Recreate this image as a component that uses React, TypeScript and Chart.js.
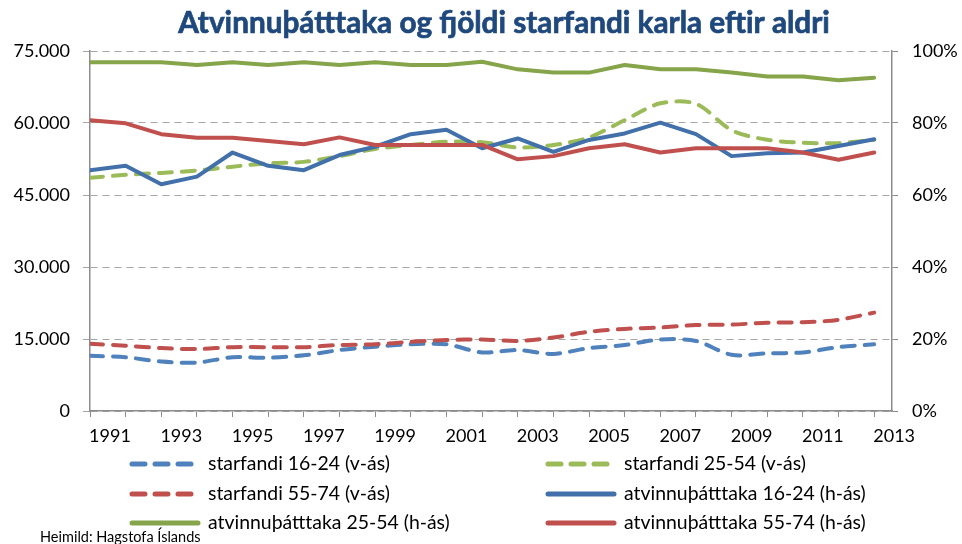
import React, { useEffect, useRef } from 'react';
import { Chart, registerables } from 'chart.js';

Chart.register(...registerables);

const TITLE = 'Atvinnuþátttaka og fjöldi starfandi karla eftir aldri';
const SOURCE = 'Heimild: Hagstofa Íslands';

const years = [1991, 1992, 1993, 1994, 1995, 1996, 1997, 1998, 1999, 2000, 2001, 2002, 2003, 2004, 2005, 2006, 2007, 2008, 2009, 2010, 2011, 2012, 2013];

// Fjöldi starfandi (vinstri ás)
const starfandi1624 = [11500, 11200, 10300, 10100, 11200, 11100, 11600, 12700, 13400, 13900, 13900, 12200, 12700, 11900, 13100, 13750, 14900, 14600, 11700, 12000, 12200, 13300, 13900];
const starfandi2554 = [48600, 49200, 49600, 50100, 50900, 51600, 51900, 53100, 54600, 55400, 56100, 56000, 54900, 55400, 57000, 60600, 64100, 64000, 58500, 56500, 55900, 55800, 56500];
const starfandi5574 = [14000, 13600, 13100, 12900, 13300, 13300, 13300, 13750, 13900, 14400, 14800, 14900, 14600, 15300, 16500, 17100, 17400, 17900, 18000, 18400, 18500, 19000, 20500];

// Atvinnuþátttaka % (hægri ás)
const atv1624 = [66.9, 68.1, 63.0, 65.1, 71.8, 68.1, 66.9, 71.1, 73.4, 76.9, 78.1, 73.0, 75.7, 72.0, 75.3, 77.1, 80.1, 76.9, 70.8, 71.6, 71.8, 73.6, 75.5];
const atv2554 = [96.9, 96.9, 96.9, 96.1, 96.9, 96.1, 96.9, 96.1, 96.9, 96.1, 96.1, 97.0, 94.9, 94.0, 94.0, 96.1, 94.9, 94.9, 94.0, 92.9, 92.9, 91.9, 92.6];
const atv5574 = [80.8, 79.9, 76.9, 75.9, 75.9, 75.0, 74.1, 76.0, 73.9, 73.9, 73.9, 73.9, 69.9, 70.8, 73.0, 74.1, 71.8, 73.0, 73.0, 73.0, 71.8, 69.8, 71.8];

const seriesLabels = [
  'starfandi 16-24 (v-ás)',
  'starfandi 25-54 (v-ás)',
  'starfandi 55-74 (v-ás)',
  'atvinnuþátttaka 16-24 (h-ás)',
  'atvinnuþátttaka 25-54 (h-ás)',
  'atvinnuþátttaka 55-74 (h-ás)',
];

const leftTicks = [0, 15000, 30000, 45000, 60000, 75000];
const rightTicks = [0, 20, 40, 60, 80, 100];

const FONT = 'Lato, "Open Sans", "DejaVu Sans", sans-serif';
const AXIS_GRAY = '#8C8C8C';
const GRID_GRAY = '#A6A6A6';

const fmtThousands = (v: number) =>
  String(Math.round(v)).replace(/\B(?=(\d{3})+(?!\d))/g, '.');

const titlePlugin = {
  id: 'customTitle',
  afterDraw(chart: any) {
    const ctx = chart.ctx as CanvasRenderingContext2D;
    ctx.save();
    let size = 28;
    ctx.font = `bold ${size}px ${FONT}`;
    const w = ctx.measureText(TITLE).width;
    size = size * 652 / w;
    ctx.font = `bold ${size}px ${FONT}`;
    ctx.fillStyle = '#1F497D';
    ctx.strokeStyle = '#1F497D';
    ctx.lineWidth = 0.7;
    ctx.textAlign = 'center';
    ctx.textBaseline = 'alphabetic';
    const cx = (chart.chartArea.left + chart.chartArea.right) / 2 + 13;
    ctx.fillText(TITLE, cx, 33);
    ctx.strokeText(TITLE, cx, 33);
    ctx.restore();
  },
};

const legendPlugin = {
  id: 'customLegend',
  afterDraw(chart: any) {
    const ctx = chart.ctx as CanvasRenderingContext2D;
    const ds = chart.data.datasets;
    const colX = [130, 546];
    const rowY = [464, 494, 523];
    ctx.save();
    let size = 19;
    ctx.font = `${size}px ${FONT}`;
    const w = ctx.measureText(seriesLabels[0]).width;
    size = size * 182 / w;
    ds.forEach((d: any, i: number) => {
      const col = i % 2;
      const row = Math.floor(i / 2);
      const x = colX[col];
      const y = rowY[row];
      ctx.beginPath();
      ctx.strokeStyle = d.borderColor;
      ctx.lineWidth = 5;
      ctx.lineCap = 'round';
      ctx.setLineDash(d.borderDash && d.borderDash.length ? [13, 10] : []);
      ctx.moveTo(x + 2, y);
      ctx.lineTo(x + 68, y);
      ctx.stroke();
      ctx.setLineDash([]);
      ctx.fillStyle = '#000000';
      ctx.font = `${size}px ${FONT}`;
      ctx.textAlign = 'left';
      ctx.textBaseline = 'middle';
      ctx.fillText(d.label, x + 78, y);
    });
    ctx.font = `14.5px ${FONT}`;
    ctx.fillStyle = '#000000';
    ctx.textBaseline = 'middle';
    ctx.fillText(SOURCE, 40, 537);
    ctx.restore();
  },
};

export default function App() {
  const ref = useRef<HTMLCanvasElement | null>(null);

  useEffect(() => {
    document.body.style.margin = '0';
    const canvas = ref.current;
    if (!canvas) return;

    const pts = (arr: number[]) => arr.map((v, i) => ({ x: years[i], y: v }));
    const dashed = (label: string, data: number[], color: string, order: number) => ({
      label,
      data: pts(data),
      borderColor: color,
      backgroundColor: color,
      borderWidth: 4,
      borderDash: [13, 10],
      borderCapStyle: 'round' as const,
      borderJoinStyle: 'round' as const,
      pointRadius: 0,
      tension: 0.3,
      yAxisID: 'y',
      order,
    });
    const solid = (label: string, data: number[], color: string, order: number) => ({
      label,
      data: pts(data),
      borderColor: color,
      backgroundColor: color,
      borderWidth: 4,
      borderDash: [] as number[],
      borderCapStyle: 'round' as const,
      borderJoinStyle: 'round' as const,
      pointRadius: 0,
      tension: 0,
      yAxisID: 'y1',
      order,
    });

    const chart = new Chart(canvas, {
      type: 'line',
      data: {
        datasets: [
          dashed(seriesLabels[0], starfandi1624, '#4F81BD', 6),
          dashed(seriesLabels[1], starfandi2554, '#9BBB59', 5),
          dashed(seriesLabels[2], starfandi5574, '#C0504D', 4),
          solid(seriesLabels[3], atv1624, '#4170AB', 3),
          solid(seriesLabels[4], atv2554, '#86A44A', 2),
          solid(seriesLabels[5], atv5574, '#C0504D', 1),
        ] as any,
      },
      options: {
        responsive: false,
        animation: false,
        devicePixelRatio: 1,
        layout: { padding: { top: 51, bottom: 93, left: 0, right: 0 } },
        plugins: {
          legend: { display: false },
          title: { display: false },
          tooltip: { enabled: false },
        },
        scales: {
          x: {
            type: 'linear',
            min: years[0],
            max: years[years.length - 1] + 0.5,
            afterBuildTicks: (scale: any) => {
              scale.ticks = years.map((v) => ({ value: v }));
            },
            afterFit: (scale: any) => {
              scale.height = 40;
            },
            grid: {
              display: true,
              drawOnChartArea: false,
              drawTicks: true,
              tickLength: 6,
              color: AXIS_GRAY,
              tickColor: AXIS_GRAY,
            },
            border: { display: true, color: AXIS_GRAY, width: 1.5 },
            ticks: {
              autoSkip: false,
              maxRotation: 0,
              minRotation: 0,
              labelOffset: 20,
              padding: 8,
              color: '#000000',
              font: { family: FONT, size: 18 },
              callback: (v: any) => (Number(v) % 2 === 1 ? String(v) : ''),
            },
          },
          y: {
            type: 'linear',
            position: 'left',
            min: 0,
            max: 75000,
            afterBuildTicks: (scale: any) => {
              scale.ticks = leftTicks.map((v) => ({ value: v }));
            },
            afterFit: (scale: any) => {
              scale.width = 90;
            },
            grid: {
              display: true,
              drawOnChartArea: true,
              drawTicks: true,
              tickLength: 7,
              color: GRID_GRAY,
              tickColor: GRID_GRAY,
              lineWidth: 1,
            },
            border: { display: true, color: AXIS_GRAY, width: 1.5, dash: [7, 5] },
            ticks: {
              padding: 13,
              color: '#000000',
              font: { family: FONT, size: 18 },
              callback: (v: any) => fmtThousands(Number(v)),
            },
          },
          y1: {
            type: 'linear',
            position: 'right',
            min: 0,
            max: 100,
            afterBuildTicks: (scale: any) => {
              scale.ticks = rightTicks.map((v) => ({ value: v }));
            },
            afterFit: (scale: any) => {
              scale.width = 70;
            },
            grid: {
              display: true,
              drawOnChartArea: false,
              drawTicks: true,
              tickLength: 6,
              color: AXIS_GRAY,
              tickColor: AXIS_GRAY,
            },
            border: { display: true, color: AXIS_GRAY, width: 1.5 },
            ticks: {
              padding: 14,
              color: '#000000',
              font: { family: FONT, size: 18 },
              callback: (v: any) => `${v}%`,
            },
          },
        },
      } as any,
      plugins: [titlePlugin, legendPlugin],
    });

    return () => chart.destroy();
  }, []);

  return (
    <div style={{ width: 962, height: 544, background: '#ffffff' }}>
      <canvas ref={ref} width={962} height={544} style={{ display: 'block' }} />
    </div>
  );
}
